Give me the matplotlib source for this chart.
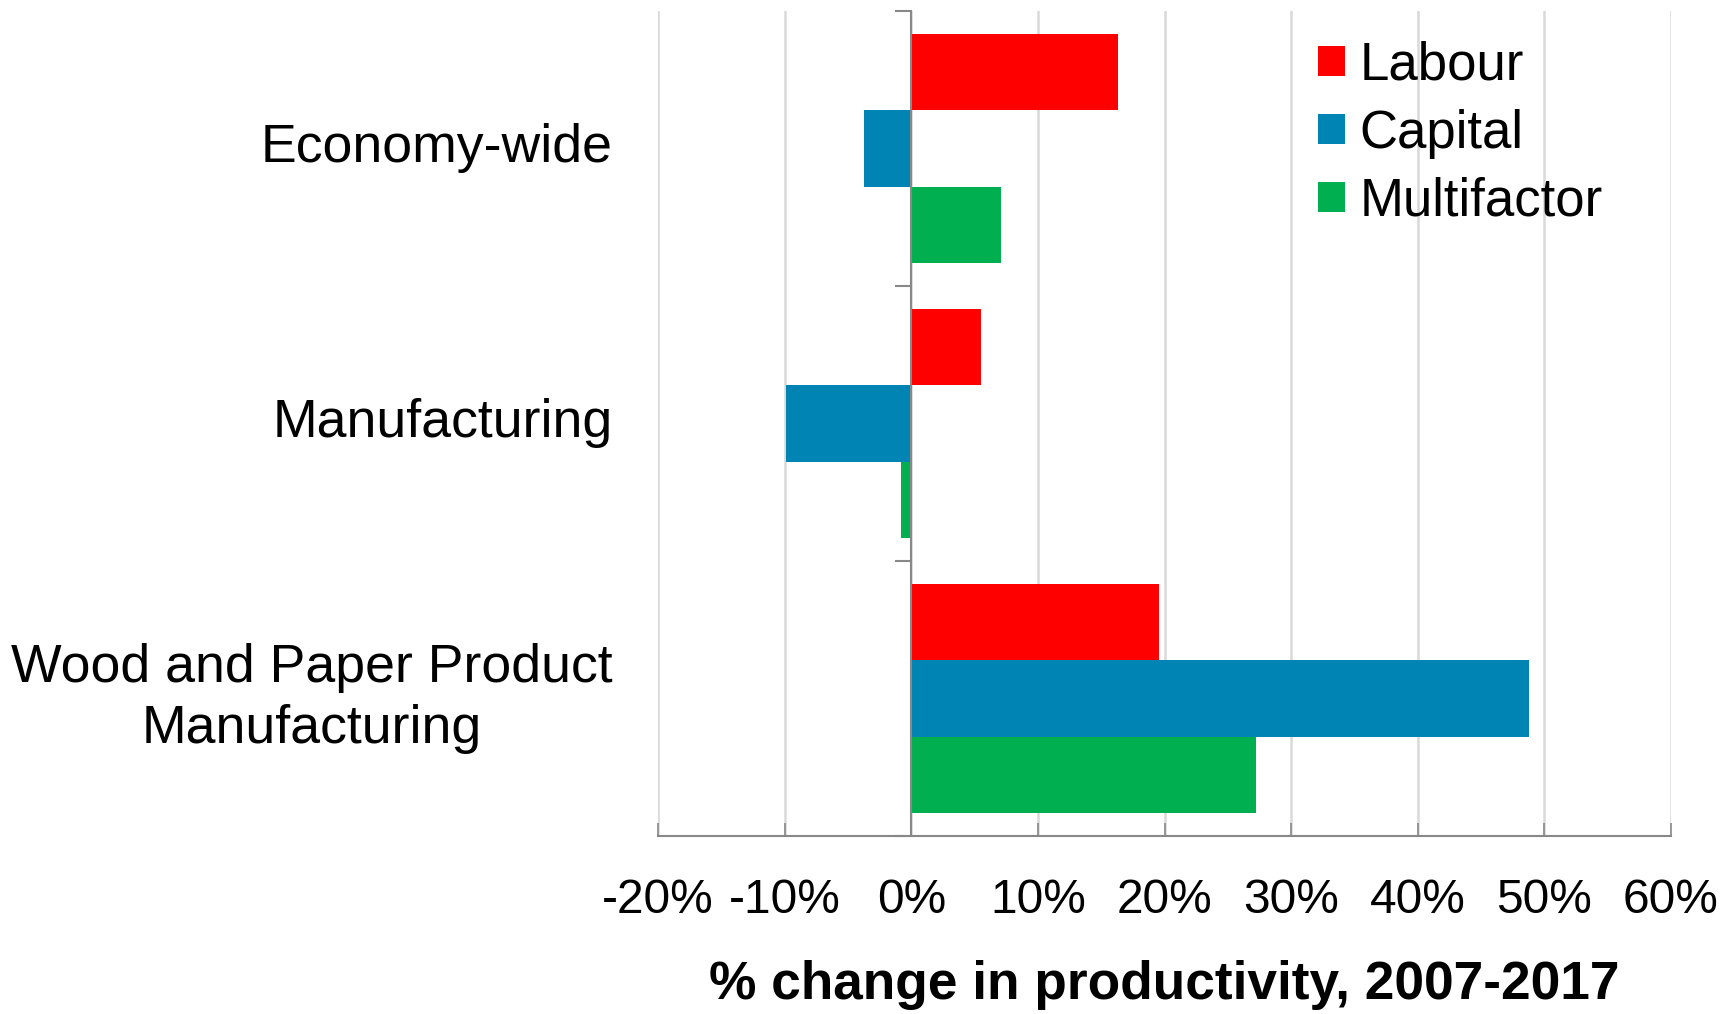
import matplotlib

matplotlib.use("Agg")
import matplotlib.pyplot as plt
import numpy as np

plt.rcParams["font.family"] = ["Liberation Sans", "DejaVu Sans"]

categories = ["Economy-wide", "Manufacturing", "Wood and Paper Product\nManufacturing"]
series = ["Labour", "Capital", "Multifactor"]
labour = [16.3, 5.5, 19.6]
capital = [-3.75, -9.9, 48.8]
multifactor = [7.1, -0.85, 27.2]
colors = ["#ff0000", "#0084b4", "#00b050"]
xticks = [-20, -10, 0, 10, 20, 30, 40, 50, 60]

fig = plt.figure(figsize=(17.35, 10.14), dpi=100)
ax = fig.add_axes([0.3793, 0.1755, 0.5838, 0.8137])

y = np.arange(len(categories))
h = 0.277
for i, (name, vals) in enumerate(zip(series, [labour, capital, multifactor])):
    ax.barh(y + (i - 1) * h, vals, height=h, color=colors[i], label=name, zorder=2)

ax.set_xlim(-20, 60)
ax.set_ylim(2.5, -0.5)
ax.set_xticks(xticks)
ax.set_xticklabels([f"{v}%" for v in xticks], fontsize=34.5)
ax.tick_params(axis="x", direction="in", length=9.5, width=1.2, color="#888888", pad=30)
ax.grid(axis="x", color="#d9d9d9", linewidth=1.8, zorder=0)

# category axis sits on the zero line
ax.spines["left"].set_position(("data", 0))
ax.spines["left"].set_color("#888888")
ax.spines["left"].set_linewidth(1.5)
ax.spines["left"].set_zorder(3)
ax.set_yticks([-0.5, 0.5, 1.5, 2.5])
ax.set_yticklabels([])
ax.tick_params(axis="y", direction="out", length=11.5, width=1.5, color="#888888")
for s in ["top", "right"]:
    ax.spines[s].set_visible(False)
ax.spines["bottom"].set_color("#888888")
ax.spines["bottom"].set_linewidth(1.5)

for yi, cat in zip(y, categories):
    ax.text(-0.045, yi, cat, transform=ax.get_yaxis_transform(), ha="right", va="center",
            multialignment="center", fontsize=38.6, linespacing=1.26)

ax.set_xlabel("% change in productivity, 2007-2017", fontsize=38.3, fontweight="bold", labelpad=27)

ax.legend(loc="upper left", bbox_to_anchor=(0.652, 0.964), frameon=False, fontsize=38,
          handlelength=0.5, handleheight=0.5, handletextpad=0.27, labelspacing=0.34,
          borderpad=0, borderaxespad=0)

fig.savefig("out.png", dpi=100)
